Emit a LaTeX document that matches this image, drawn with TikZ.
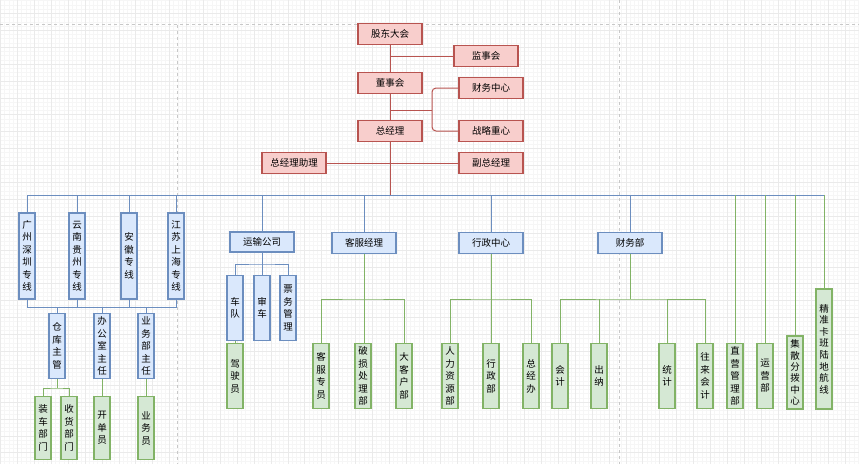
\documentclass[tikz,border=0pt]{standalone}
\usepackage{fontspec}
\newfontfamily\cjk{Noto Sans CJK SC}
\usepackage{tikz}
\definecolor{redfill}{HTML}{F8CECC}
\definecolor{redline}{HTML}{B85450}
\definecolor{bluefill}{HTML}{DAE8FC}
\definecolor{blueline}{HTML}{6C8EBF}
\definecolor{greenfill}{HTML}{D5E8D4}
\definecolor{greenline}{HTML}{82B366}
\definecolor{gridminor}{HTML}{F6F6F6}
\definecolor{gridmajor}{HTML}{EAEAEA}
\definecolor{pageline}{HTML}{C8C8C8}

\begin{document}
\begin{tikzpicture}[x=1pt,y=-1pt,
  redbox/.style={draw=redline, fill=redfill, line width=1.1pt, minimum width=64pt, minimum height=21pt, inner sep=0pt, font=\cjk\fontsize{9.5}{12.5}\selectfont},
  bluebox/.style={redbox, draw=blueline, fill=bluefill},
  greenbox/.style={redbox, draw=greenline, fill=greenfill},
  vbox/.style={minimum width=16pt, align=center},
  redwire/.style={draw=redline, line width=1pt},
  bluewire/.style={draw=blueline, line width=1pt},
  greenwire/.style={draw=greenline, line width=1pt}]
% Page and grid
\useasboundingbox (0,0) rectangle (859,464);
\fill[white] (0,0) rectangle (859,464);
\begin{scope}
 \clip (0,0) rectangle (859,464);
 \foreach \gx in {0.5,4.725,...,862} \draw[gridminor, line width=0.5pt] (\gx,0) -- (\gx,464);
 \foreach \gy in {-3.6,0.625,...,468} \draw[gridminor, line width=0.5pt] (0,\gy) -- (859,\gy);
 \foreach \gx in {0.5,17.4,...,862} \draw[gridmajor, line width=0.6pt] (\gx,0) -- (\gx,464);
 \foreach \gy in {-3.6,13.3,...,468} \draw[gridmajor, line width=0.6pt] (0,\gy) -- (859,\gy);
 \draw[pageline, dash pattern=on 3pt off 3pt, line width=0.8pt] (0,24.5) -- (859,24.5);
 \draw[pageline, dash pattern=on 3pt off 3pt, line width=0.8pt] (177,24.5) -- (177,464);
 \draw[pageline, dash pattern=on 3pt off 3pt, line width=0.8pt] (619,0) -- (619,464);
\end{scope}
%
% Top management
\node[redbox] (gd) at (390,34) {股东大会};
\node[redbox] (jsh) at (486,56) {监事会};
\node[redbox] (dsh) at (390,83) {董事会};
\node[redbox] (cwzx) at (491,88) {财务中心};
\node[redbox] (zlzx) at (491,131) {战略重心};
\node[redbox] (zjl) at (390,131) {总经理};
\node[redbox] (zlzl) at (294,163) {总经理助理};
\node[redbox] (fzjl) at (491,163) {副总经理};
\coordinate (fork) at (432,110);
\coordinate (bus) at (390,195);
%
% Lines (left)
\node[bluebox, vbox, minimum height=86pt] (gz) at (27,256) {广\\州\\深\\圳\\专\\线};
\node[bluebox, vbox, minimum height=86pt] (yngz) at (77,256) {云\\南\\贵\\州\\专\\线};
\node[bluebox, vbox, minimum height=86pt] (ah) at (129,256) {安\\徽\\专\\线};
\node[bluebox, vbox, minimum height=86pt] (jssh) at (176,256) {江\\苏\\上\\海\\专\\线};
\coordinate (zxbus) at (100,307);
\node[bluebox, vbox, minimum height=65pt] (ckzg) at (57,346) {仓\\库\\主\\管};
\node[bluebox, vbox, minimum height=65pt] (bgs) at (102,346) {办\\公\\室\\主\\任};
\node[bluebox, vbox, minimum height=65pt] (ywb) at (146,346) {业\\务\\部\\主\\任};
\coordinate (ckfork) at (57,388);
\node[greenbox, vbox, minimum height=63pt] (zcbm) at (43,428) {装\\车\\部\\门};
\node[greenbox, vbox, minimum height=63pt] (shbm) at (69,428) {收\\货\\部\\门};
\node[greenbox, vbox, minimum height=63pt] (kdy) at (102,428) {开\\单\\员};
\node[greenbox, vbox, minimum height=63pt] (ywy) at (146,428) {业\\务\\员};
%
% Departments
\node[bluebox, minimum height=20pt] (ys) at (262,242) {运输公司};
\coordinate (ysfork) at (262,264);
\node[bluebox, vbox, minimum height=65pt] (cd) at (235,308) {车\\队};
\node[bluebox, vbox, minimum height=65pt] (sc) at (262,308) {审\\车};
\node[bluebox, vbox, minimum height=65pt] (pw) at (288,308) {票\\务\\管\\理};
\node[greenbox, vbox, minimum height=65pt] (jsy) at (235,376) {驾\\驶\\员};
\node[bluebox] (kf) at (364,243) {客服经理};
\coordinate (kffork) at (363,299);
\node[greenbox, vbox, minimum height=65pt] (kfzy) at (321,376) {客\\服\\专\\员};
\node[greenbox, vbox, minimum height=65pt] (psc) at (363,376) {破\\损\\处\\理\\部};
\node[greenbox, vbox, minimum height=65pt] (dkh) at (404,376) {大\\客\\户\\部};
\node[bluebox] (xz) at (491,243) {行政中心};
\coordinate (xzfork) at (491,299);
\node[greenbox, vbox, minimum height=65pt] (rlzy) at (450,376) {人\\力\\资\\源\\部};
\node[greenbox, vbox, minimum height=65pt] (xzb) at (491,376) {行\\政\\部};
\node[greenbox, vbox, minimum height=65pt] (zjb) at (531,376) {总\\经\\办};
\node[bluebox] (cwb) at (630,243) {财务部};
\coordinate (cwfork) at (630,299);
\node[greenbox, vbox, minimum height=65pt] (kj) at (560,376) {会\\计};
\node[greenbox, vbox, minimum height=65pt] (cn) at (599,376) {出\\纳};
\node[greenbox, vbox, minimum height=65pt] (tj) at (667,376) {统\\计};
\node[greenbox, vbox, minimum height=65pt] (wl) at (705,376) {往\\来\\会\\计};
\node[greenbox, vbox, minimum height=65pt] (zy) at (735,376) {直\\营\\管\\理\\部};
\node[greenbox, vbox, minimum height=65pt] (yy) at (765,376) {运\\营\\部};
\node[greenbox, vbox, minimum height=73pt, font=\cjk\fontsize{9.5}{11.4}\selectfont] (jsfb) at (795,372.5) {集\\散\\分\\拨\\中\\心};
\node[greenbox, vbox, minimum height=120pt, font=\cjk\fontsize{9.5}{11.6}\selectfont] (jzkb) at (824,349) {精\\准\\卡\\班\\陆\\地\\航\\线};
%
% Red trunk
\draw[redwire] (gd) -- (dsh);
\draw[redwire] (dsh) -- (zjl);
\draw[redwire] (jsh.west) -- (jsh.west -| gd.south);
\draw[redwire, rounded corners=4pt] (cwzx.west) -| (fork) |- (zlzx.west);
\draw[redwire] (fork) -- (fork -| dsh.south);
\draw[redwire] (zlzl) -- (fzjl);
% Blue bus and stems
\draw[bluewire] (gz.north) -- (gz.north |- bus) -- (jzkb.north |- bus);
\draw[redwire] (zjl.south) -- (bus);
\foreach \dept in {yngz,ah,jssh,ys,kf,xz,cwb}
  \draw[bluewire] (\dept.north) -- (\dept.north |- bus);
\foreach \dept in {zy,yy,jsfb,jzkb}
  \draw[greenwire] (\dept.north) -- (\dept.north |- bus);
% Left group
\draw[bluewire] (gz.south) -- (gz.south |- zxbus) -- (jssh.south |- zxbus) -- (jssh.south);
\foreach \dept in {yngz,ah}
  \draw[bluewire] (\dept.south) -- (\dept.south |- zxbus);
\foreach \dept in {ckzg,bgs,ywb}
  \draw[bluewire] (\dept.north) -- (\dept.north |- zxbus);
\draw[greenwire] (ckzg.south) -- (ckfork);
\draw[greenwire] (zcbm.north) |- (ckfork) -| (shbm.north);
\draw[greenwire] (bgs) -- (kdy);
\draw[greenwire] (ywb) -- (ywy);
% Transport
\draw[bluewire] (ys.south) -- (ysfork);
\draw[bluewire] (cd.north) |- (ysfork) -| (pw.north);
\draw[bluewire] (sc.north) -- (ysfork);
\draw[greenwire] (cd) -- (jsy);
% Service, admin, finance
\draw[greenwire] (kf.south) -- (kf.south |- psc.north);
\draw[greenwire] (kfzy.north) |- (kffork) -| (dkh.north);
\draw[greenwire] (xz) -- (xzb);
\draw[greenwire] (rlzy.north) |- (xzfork) -| (zjb.north);
\draw[greenwire] (cwb.south) -- (cwfork);
\draw[greenwire] (kj.north) |- (cwfork) -| (wl.north);
\foreach \dept in {cn,tj}
  \draw[greenwire] (\dept.north) -- (\dept.north |- cwfork);
\end{tikzpicture}
\end{document}
